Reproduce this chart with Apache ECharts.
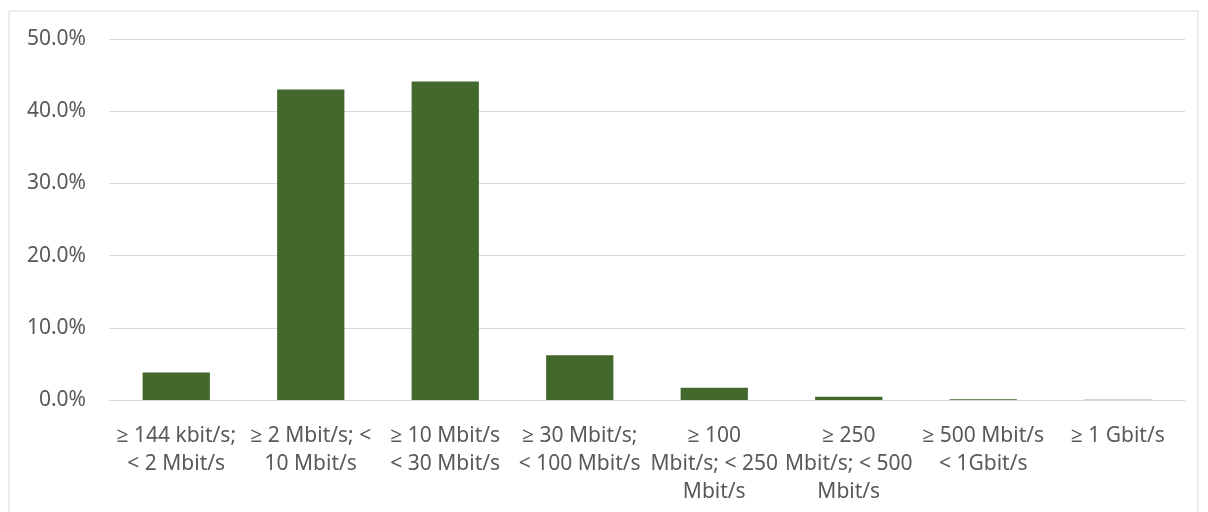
<!DOCTYPE html>
<html>
<head>
<meta charset="utf-8">
<script src="https://cdn.jsdelivr.net/npm/echarts@6/dist/echarts.min.js"></script>
<style>
html,body{margin:0;padding:0;background:#fff;}
#chart{width:1208px;height:512px;}
</style>
</head>
<body>
<div id="chart"></div>
<script>
const categories = [
  "≥ 144 kbit/s;\n< 2 Mbit/s",
  "≥ 2 Mbit/s; <\n10 Mbit/s",
  "≥ 10 Mbit/s\n< 30 Mbit/s",
  "≥ 30 Mbit/s;\n< 100 Mbit/s",
  "≥ 100\nMbit/s; < 250\nMbit/s",
  "≥ 250\nMbit/s; < 500\nMbit/s",
  "≥ 500 Mbit/s\n< 1Gbit/s",
  "≥ 1 Gbit/s"
];
const shares = [3.8, 43.0, 44.1, 6.2, 1.7, 0.45, 0.1, 0.05];
const yTicks = [0, 10, 20, 30, 40, 50];

const chart = echarts.init(document.getElementById('chart'), null, {renderer: 'canvas'});
const font = '"Noto Sans", "Open Sans", sans-serif';
chart.setOption({
  animation: false,
  backgroundColor: '#ffffff',
  graphic: [{
    type: 'rect',
    shape: {x: 9, y: 11, width: 1189, height: 520},
    style: {fill: 'none', stroke: '#d9d9d9', lineWidth: 1},
    silent: true
  }],
  grid: {left: 109, right: 23, top: 39, bottom: 112, containLabel: false},
  xAxis: {
    type: 'category',
    data: categories,
    axisTick: {show: false},
    axisLine: {show: true, lineStyle: {color: '#d9d9d9', width: 1}},
    axisLabel: {
      interval: 0,
      margin: 22,
      color: '#595959',
      fontFamily: font,
      fontSize: 21,
      lineHeight: 28,
      align: 'center'
    }
  },
  yAxis: {
    type: 'value',
    min: yTicks[0],
    max: yTicks[yTicks.length - 1],
    interval: 10,
    axisLine: {show: false},
    axisTick: {show: false},
    splitLine: {lineStyle: {color: '#d9d9d9', width: 1}},
    axisLabel: {
      margin: 23,
      color: '#595959',
      fontFamily: font,
      fontSize: 21,
      formatter: v => v.toFixed(1) + '%'
    }
  },
  series: [{
    type: 'bar',
    data: shares,
    barCategoryGap: '50%',
    itemStyle: {color: '#43682b'}
  }]
});
</script>
</body>
</html>
